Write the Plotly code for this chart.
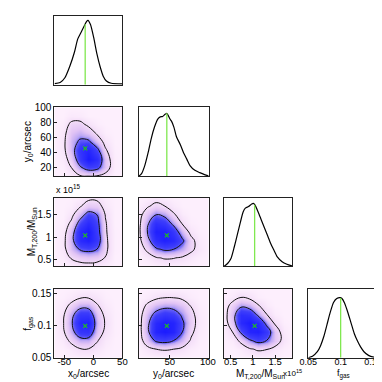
import numpy as np
import plotly.graph_objects as go

# parameters (order of the corner plot), true values and axis ranges
params = ["x0", "y0", "M", "fgas"]
true_vals = {"x0": -14, "y0": 46, "M": 1.04, "fgas": 0.1}
ranges = {"x0": [-67, 50], "y0": [9, 101], "M": [0.35, 1.88], "fgas": [0.05, 0.158]}

# tick values / labels
x_ticks = {"x0": [-50, 0, 50], "y0": [50, 100], "M": [0.5, 1, 1.5], "fgas": [0.05, 0.1, 0.15]}
x_ticktext = {"x0": ["-50", "0", "50"], "y0": ["50", "100"], "M": ["0.5", "1", "1.5"],
              "fgas": ["0.05", "0.1", "0.15"]}
y_ticks = {"y0": [20, 40, 60, 80, 100], "M": [0.5, 1, 1.5], "fgas": [0.05, 0.1, 0.15]}
y_ticktext = {"y0": ["20", "40", "60", "80", "100"], "M": ["0.5", "1", "1.5"],
              "fgas": ["0.05", "0.1", "0.15"]}

# 1D marginal densities (arbitrary units)
x0_grid = [-66.5, -57.1, -48.9, -40.6, -32.4, -26.9, -21.4, -15.9, -11.5, -9.3, -4.9, 0.6,
           6.1, 11.6, 17.0, 22.5, 30.8, 50]
x0_dens = [0.019, 0.033, 0.103, 0.266, 0.477, 0.664, 0.757, 0.85, 0.92, 0.935, 0.874, 0.687,
           0.453, 0.266, 0.126, 0.056, 0.023, 0.014]

y0_grid = [9.4, 12.8, 17.0, 21.4, 25.6, 29.8, 34.1, 37.4, 40.4, 43.8, 46.0, 48.1, 50.2, 52.3,
           55.3, 58.7, 63.8, 68.0, 72.3, 76.5, 82.9, 89.3, 95.6, 101]
y0_dens = [0.0, 0.037, 0.153, 0.34, 0.549, 0.712, 0.828, 0.86, 0.865, 0.898, 0.912, 0.874,
           0.828, 0.795, 0.712, 0.572, 0.456, 0.34, 0.247, 0.153, 0.084, 0.051, 0.023, 0.005]

m_grid = [0.35, 0.436, 0.508, 0.58, 0.652, 0.723, 0.781, 0.831, 0.903, 0.975, 1.011, 1.046,
          1.119, 1.19, 1.262, 1.335, 1.406, 1.477, 1.55, 1.658, 1.766, 1.88]
m_dens = [0.0, 0.047, 0.116, 0.279, 0.465, 0.651, 0.791, 0.847, 0.87, 0.907, 0.916, 0.893,
          0.791, 0.674, 0.558, 0.442, 0.326, 0.233, 0.14, 0.07, 0.033, 0.009]

fgas_grid = [0.05, 0.0565, 0.064, 0.069, 0.074, 0.079, 0.084, 0.089, 0.094, 0.099, 0.102,
             0.106, 0.111, 0.116, 0.121, 0.126, 0.131, 0.136, 0.143, 0.151, 0.158]
fgas_dens = [0.0, 0.022, 0.088, 0.176, 0.308, 0.485, 0.661, 0.802, 0.859, 0.872, 0.859,
             0.793, 0.661, 0.507, 0.352, 0.242, 0.154, 0.088, 0.035, 0.009, 0.0]

marginals = {"x0": (x0_grid, x0_dens), "y0": (y0_grid, y0_dens),
             "M": (m_grid, m_dens), "fgas": (fgas_grid, fgas_dens)}

# 2D densities on a 9x9 grid spanning the axis ranges (rows: bottom -> top)
dens_x0_y0 = [
    [0, 0, 0.05, 0.12, 0.15, 0.13, 0.06, 0, 0],
    [0, 0.01, 0.15, 0.45, 0.65, 0.6, 0.3, 0.02, 0],
    [0, 0.04, 0.25, 0.7, 1.0, 0.8, 0.3, 0.02, 0],
    [0, 0.07, 0.35, 0.75, 0.9, 0.6, 0.18, 0.01, 0],
    [0, 0.08, 0.35, 0.55, 0.55, 0.3, 0.08, 0, 0],
    [0, 0.06, 0.3, 0.38, 0.3, 0.12, 0.02, 0, 0],
    [0, 0.03, 0.2, 0.22, 0.1, 0.02, 0, 0, 0],
    [0, 0, 0.05, 0.04, 0, 0, 0, 0, 0],
    [0, 0, 0, 0, 0, 0, 0, 0, 0],
]
dens_x0_m = [
    [0, 0, 0.02, 0.05, 0.06, 0.05, 0.02, 0, 0],
    [0, 0.03, 0.17, 0.25, 0.28, 0.25, 0.14, 0, 0],
    [0, 0.06, 0.32, 0.52, 0.58, 0.5, 0.2, 0.01, 0],
    [0, 0.06, 0.38, 0.85, 0.95, 0.7, 0.2, 0.01, 0],
    [0, 0.04, 0.33, 0.85, 1.0, 0.65, 0.18, 0.01, 0],
    [0, 0.01, 0.2, 0.62, 0.85, 0.6, 0.17, 0, 0],
    [0, 0, 0.08, 0.35, 0.62, 0.5, 0.14, 0, 0],
    [0, 0, 0.02, 0.12, 0.28, 0.25, 0.07, 0, 0],
    [0, 0, 0, 0.02, 0.08, 0.09, 0.02, 0, 0],
]
dens_y0_m = [
    [0, 0, 0.01, 0.02, 0.02, 0.01, 0, 0, 0],
    [0, 0.05, 0.13, 0.17, 0.16, 0.12, 0.06, 0.01, 0],
    [0.03, 0.2, 0.45, 0.55, 0.5, 0.38, 0.2, 0.06, 0],
    [0.06, 0.38, 0.8, 0.95, 0.85, 0.55, 0.22, 0.04, 0],
    [0.08, 0.5, 0.95, 0.95, 0.7, 0.33, 0.08, 0.01, 0],
    [0.07, 0.45, 0.8, 0.7, 0.42, 0.13, 0.02, 0, 0],
    [0.05, 0.3, 0.5, 0.42, 0.18, 0.04, 0, 0, 0],
    [0.02, 0.12, 0.22, 0.15, 0.05, 0, 0, 0, 0],
    [0, 0.02, 0.05, 0.02, 0, 0, 0, 0, 0],
]
dens_x0_fgas = [
    [0, 0, 0.01, 0.02, 0.02, 0.01, 0, 0, 0],
    [0, 0.01, 0.06, 0.13, 0.14, 0.08, 0.02, 0, 0],
    [0, 0.05, 0.2, 0.38, 0.38, 0.17, 0.05, 0, 0],
    [0, 0.1, 0.38, 0.72, 0.75, 0.3, 0.1, 0.01, 0],
    [0, 0.12, 0.45, 0.9, 0.95, 0.35, 0.13, 0.01, 0],
    [0, 0.1, 0.4, 0.72, 0.72, 0.3, 0.1, 0.01, 0],
    [0, 0.05, 0.22, 0.4, 0.4, 0.18, 0.05, 0, 0],
    [0, 0.01, 0.05, 0.12, 0.13, 0.07, 0.01, 0, 0],
    [0, 0, 0, 0.01, 0.01, 0, 0, 0, 0],
]
dens_y0_fgas = [
    [0, 0, 0.01, 0.02, 0.01, 0, 0, 0, 0],
    [0, 0.08, 0.15, 0.17, 0.15, 0.1, 0.03, 0, 0],
    [0.02, 0.3, 0.55, 0.6, 0.5, 0.33, 0.12, 0.01, 0],
    [0.03, 0.42, 0.9, 1.0, 0.9, 0.5, 0.2, 0.03, 0],
    [0.03, 0.42, 0.85, 0.98, 0.9, 0.55, 0.25, 0.05, 0],
    [0.02, 0.35, 0.6, 0.72, 0.65, 0.45, 0.22, 0.04, 0],
    [0.01, 0.2, 0.35, 0.42, 0.4, 0.3, 0.14, 0.02, 0],
    [0, 0.04, 0.1, 0.14, 0.14, 0.1, 0.03, 0, 0],
    [0, 0, 0, 0, 0, 0, 0, 0, 0],
]
dens_m_fgas = [
    [0, 0, 0, 0.01, 0.02, 0.02, 0.01, 0, 0],
    [0, 0, 0.04, 0.12, 0.18, 0.16, 0.08, 0.02, 0],
    [0, 0.04, 0.2, 0.45, 0.6, 0.5, 0.3, 0.08, 0],
    [0.01, 0.15, 0.55, 0.9, 0.95, 0.7, 0.3, 0.05, 0],
    [0.02, 0.3, 0.85, 1.0, 0.85, 0.42, 0.12, 0.01, 0],
    [0.03, 0.35, 0.8, 0.75, 0.45, 0.16, 0.03, 0, 0],
    [0.02, 0.25, 0.45, 0.38, 0.18, 0.04, 0, 0, 0],
    [0, 0.05, 0.15, 0.1, 0.02, 0, 0, 0, 0],
    [0, 0, 0, 0, 0, 0, 0, 0, 0],
]
joint = {("x0", "y0"): dens_x0_y0, ("x0", "M"): dens_x0_m, ("y0", "M"): dens_y0_m,
         ("x0", "fgas"): dens_x0_fgas, ("y0", "fgas"): dens_y0_fgas, ("M", "fgas"): dens_m_fgas}

contour_levels = [0.15, 0.5]

# ---- layout geometry (pixels in a 382x382 page) ----
W = 382
col_px = [(39, 110), (127, 200), (216, 287), (304, 377)]
row_px = [(3, 74), (97, 168), (190, 261), (284, 355)]

FONT = "Liberation Sans, Arial, sans-serif"
AXCOL = "#222222"
GREEN_LINE = "#80e850"
GREEN_MARK = "#1fbf1f"
cscale = [[0.0, "#fdeffd"], [0.15, "#f3dcf8"], [0.3, "#e2c4f5"], [0.42, "#b9a6f4"],
          [0.5, "#6a62f7"], [0.62, "#3f3ffb"], [1.0, "#1c1cff"]]

fig = go.Figure()
layout = {}
k = 0
for r, py in enumerate(params):
    for c, px in enumerate(params):
        if c > r:
            continue
        k += 1
        xa, ya = ("x", "y") if k == 1 else (f"x{k}", f"y{k}")
        xkey, ykey = ("xaxis", "yaxis") if k == 1 else (f"xaxis{k}", f"yaxis{k}")
        diag = (r == c)

        xdom = [col_px[c][0] / W, col_px[c][1] / W]
        ydom = [1 - row_px[r][1] / W, 1 - row_px[r][0] / W]

        common = dict(showline=True, linecolor=AXCOL, linewidth=1, mirror=True,
                      showgrid=False, zeroline=False, ticklen=3, tickcolor=AXCOL,
                      tickfont=dict(size=10, color="black", family=FONT))
        layout[xkey] = dict(common, domain=xdom, anchor=ya, range=ranges[px],
                            tickmode="array", tickvals=x_ticks[px], ticktext=x_ticktext[px],
                            ticks="" if diag else "inside", ticklabelstandoff=-5,
                            tickfont=dict(size=9 if px == "fgas" else 9.5, color="black",
                                          family=FONT),
                            showticklabels=(r == len(params) - 1))
        if diag:
            layout[ykey] = dict(common, domain=ydom, anchor=xa, range=[0, 1],
                                ticks="", showticklabels=False)
            g, d = marginals[px]
            fig.add_trace(go.Scatter(x=g, y=d, mode="lines", xaxis=xa, yaxis=ya,
                                     line=dict(color="black", width=1.2, shape="spline",
                                               smoothing=0.6)))
            t = true_vals[px]
            fig.add_trace(go.Scatter(x=[t, t], y=[0, float(np.interp(t, g, d))], mode="lines",
                                     xaxis=xa, yaxis=ya,
                                     line=dict(color=GREEN_LINE, width=1.3)))
        else:
            layout[ykey] = dict(common, domain=ydom, anchor=xa, range=ranges[py],
                                tickmode="array", tickvals=y_ticks[py], ticktext=y_ticktext[py],
                                ticks="inside", showticklabels=(c == 0))
            z = joint[(px, py)]
            gx = np.linspace(ranges[px][0], ranges[px][1], len(z[0]))
            gy = np.linspace(ranges[py][0], ranges[py][1], len(z))
            fig.add_trace(go.Heatmap(x=gx, y=gy, z=z, zsmooth="best", colorscale=cscale,
                                     zmin=0, zmax=1, showscale=False, xaxis=xa, yaxis=ya,
                                     hoverinfo="skip"))
            fig.add_trace(go.Contour(x=gx, y=gy, z=z, showscale=False, xaxis=xa, yaxis=ya,
                                     contours=dict(coloring="none", start=contour_levels[0],
                                                   end=contour_levels[1],
                                                   size=contour_levels[1] - contour_levels[0]),
                                     line=dict(color="#111111", width=1, smoothing=1.2),
                                     hoverinfo="skip"))
            fig.add_trace(go.Scatter(x=[true_vals[px]], y=[true_vals[py]], mode="markers",
                                     xaxis=xa, yaxis=ya,
                                     marker=dict(symbol="x-thin", size=4,
                                                 line=dict(color=GREEN_MARK, width=1.2))))

# axis titles as annotations
labels = {"x0": "x<sub>0</sub>/arcsec", "y0": "y<sub>0</sub>/arcsec",
          "M": "M<sub>T,200</sub>/M<sub>Sun</sub>", "fgas": "f<sub>gas</sub>"}
ann = []
for c, p in enumerate(params):
    cx = (col_px[c][0] + col_px[c][1]) / 2 + (3 if p == "M" else 0)
    ann.append(dict(text=labels[p], x=cx / W, y=1 - 372 / W, xref="paper", yref="paper",
                    showarrow=False, xanchor="center", yanchor="middle",
                    font=dict(size=9 if p == "fgas" else 10, family=FONT, color="black")))
ytitle_x = {"y0": 11, "M": 16, "fgas": 12}
for r, p in enumerate(params):
    if r == 0:
        continue
    cy = (row_px[r][0] + row_px[r][1]) / 2
    ann.append(dict(text=labels[p], x=ytitle_x[p] / W, y=1 - cy / W, xref="paper",
                    yref="paper", showarrow=False, textangle=-90, xanchor="center",
                    yanchor="middle", font=dict(size=10, family=FONT, color="black")))
# exponent labels for the mass axis
ann.append(dict(text="x 10<sup>15</sup>", x=39 / W, y=1 - 181 / W, xref="paper", yref="paper",
                showarrow=False, xanchor="left", yanchor="middle",
                font=dict(size=9, family=FONT, color="black")))
ann.append(dict(text="x10<sup>15</sup>", x=276 / W, y=1 - 371 / W, xref="paper", yref="paper",
                showarrow=False, xanchor="left", yanchor="middle",
                font=dict(size=8, family=FONT, color="black")))

fig.update_layout(width=382, height=382, margin=dict(l=0, r=0, t=0, b=0),
                  paper_bgcolor="white", plot_bgcolor="white", showlegend=False,
                  font=dict(family=FONT), annotations=ann, **layout)
fig.write_html("out.html")
